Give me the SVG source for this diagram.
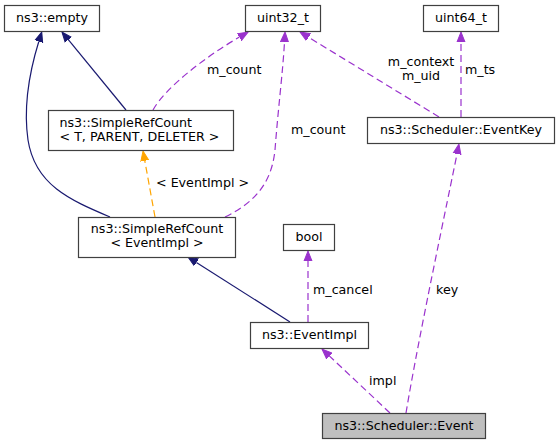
<svg xmlns="http://www.w3.org/2000/svg" width="560" height="445" viewBox="0 0 560 445">
<style>
text{font-family:"DejaVu Sans","Liberation Sans",sans-serif;font-size:12.67px;fill:#000}
.box{fill:#fff;stroke:#404040;stroke-width:1.2}
.cur{fill:#bfbfbf;stroke:#404040;stroke-width:1.2}
.mid{text-anchor:middle}
.e{fill:none;stroke-width:1.2}
.inh{stroke:#191970}
.use{stroke:#9a32cd;stroke-dasharray:7,4}
.tpl{stroke:#ffa500;stroke-dasharray:7,4}
</style>
<defs>
<marker id="aN" markerUnits="userSpaceOnUse" markerWidth="11" markerHeight="10" refX="0" refY="5" orient="auto" viewBox="0 0 11 10"><path d="M0,1 L10,5 L0,9 z" fill="#191970" stroke="#191970"/></marker>
<marker id="aP" markerUnits="userSpaceOnUse" markerWidth="11" markerHeight="10" refX="0" refY="5" orient="auto" viewBox="0 0 11 10"><path d="M0,1 L10,5 L0,9 z" fill="#9a32cd" stroke="#9a32cd"/></marker>
<marker id="aO" markerUnits="userSpaceOnUse" markerWidth="11" markerHeight="10" refX="0" refY="5" orient="auto" viewBox="0 0 11 10"><path d="M0,1 L10,5 L0,9 z" fill="#ffa500" stroke="#ffa500"/></marker>
</defs>
<g id="connectors">
<path class="e inh" d="M126,110 L68.3,39.7" marker-end="url(#aN)"/>
<path class="e inh" d="M110,217 C70,200 35,185 28,140 C23,105 30,70 38.8,41.5" marker-end="url(#aN)"/>
<path class="e tpl" d="M155,217 L144.8,160.8" marker-end="url(#aO)"/>
<text x="156" y="187">&lt; EventImpl &gt;</text>
<path class="e use" d="M153,110 C165,88 205,57 239.4,37.1" marker-end="url(#aP)"/>
<text x="207" y="74">m_count</text>
<path class="e use" d="M225,217 C260,200 272,178 275,150 C278,110 283,70 284.5,42" marker-end="url(#aP)"/>
<text x="291" y="134">m_count</text>
<path class="e use" d="M439,117 L308.5,37.2" marker-end="url(#aP)"/>
<text class="mid" x="421" y="66">m_context</text>
<text class="mid" x="421" y="80">m_uid</text>
<path class="e use" d="M461,117 L461,42" marker-end="url(#aP)"/>
<text x="465" y="74">m_ts</text>
<path class="e use" d="M308,322 L308,261" marker-end="url(#aP)"/>
<text x="313" y="294">m_cancel</text>
<path class="e inh" d="M290,322 L196.4,262.4" marker-end="url(#aN)"/>
<path class="e use" d="M390,413 L329.3,355.9" marker-end="url(#aP)"/>
<text x="369" y="385">impl</text>
<path class="e use" d="M406,413 C418,340 449,194 457,154" marker-end="url(#aP)"/>
<text x="436" y="294">key</text>
</g>
<g id="node-empty"><rect class="box" x="4.5" y="5.5" width="95" height="26"/><text class="mid" x="52" y="22">ns3::empty</text></g>
<g id="node-uint32"><rect class="box" x="245.5" y="5.5" width="75" height="26"/><text class="mid" x="283" y="22">uint32_t</text></g>
<g id="node-uint64"><rect class="box" x="423.5" y="5.5" width="75" height="26"/><text class="mid" x="461" y="22">uint64_t</text></g>
<g id="node-simplerefcount-t"><rect class="box" x="48.5" y="110.5" width="185" height="40"/><text x="59.5" y="127">ns3::SimpleRefCount</text><text x="59.5" y="141">&lt; T, PARENT, DELETER &gt;</text></g>
<g id="node-eventkey"><rect class="box" x="367.5" y="117.5" width="187" height="26"/><text class="mid" x="461" y="134">ns3::Scheduler::EventKey</text></g>
<g id="node-simplerefcount-eventimpl"><rect class="box" x="78.5" y="217.5" width="157" height="40"/><text class="mid" x="157" y="233">ns3::SimpleRefCount</text><text class="mid" x="157" y="247">&lt; EventImpl &gt;</text></g>
<g id="node-bool"><rect class="box" x="283.5" y="224.5" width="51" height="26"/><text class="mid" x="309" y="241">bool</text></g>
<g id="node-eventimpl"><rect class="box" x="250.5" y="322.5" width="118" height="26"/><text class="mid" x="309.5" y="339">ns3::EventImpl</text></g>
<g id="node-event"><rect class="cur" x="322.5" y="413.5" width="163" height="25"/><text class="mid" x="404" y="430">ns3::Scheduler::Event</text></g>
</svg>
